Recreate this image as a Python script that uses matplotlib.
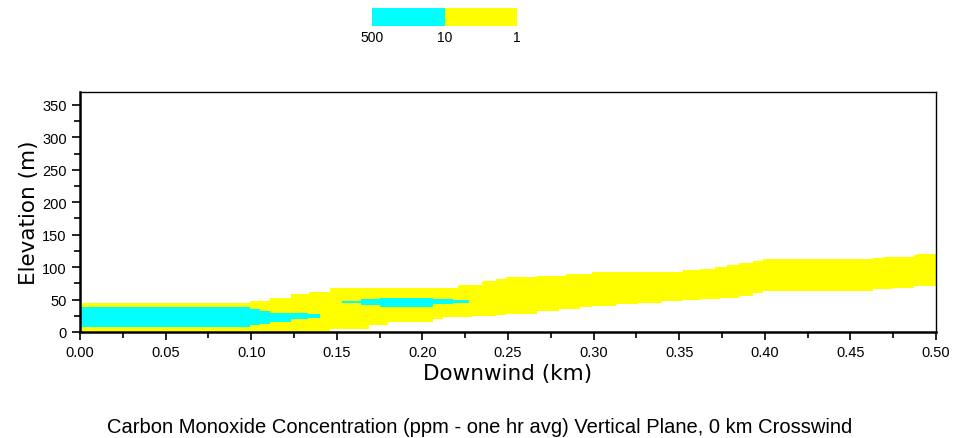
import matplotlib
matplotlib.use("Agg")
from matplotlib import pyplot as plt
from matplotlib import colors, colorbar, ticker

plt.rcParams["font.family"] = ["Liberation Sans", "DejaVu Sans"]

# concentration bands (step edges in km, elevation in m)
# >= 1 ppm band
yel_x = [0.000, 0.099, 0.111, 0.123, 0.134, 0.146, 0.169, 0.180, 0.206, 0.212,
         0.221, 0.229, 0.235, 0.243, 0.249, 0.267, 0.280, 0.284, 0.292, 0.299,
         0.313, 0.326, 0.340, 0.352, 0.362, 0.371, 0.374, 0.378, 0.385, 0.393,
         0.399, 0.463, 0.469, 0.475, 0.487, 0.489, 0.500]
yel_lo = [0, 0, 0, 0, 0, 4, 10, 15, 20, 23,
          23, 25, 25, 26, 28, 32, 36, 36, 38, 40,
          43, 45, 48, 49, 51, 51, 53, 53, 56, 60,
          63, 66, 66, 68, 71, 71, 71]
yel_hi = [45, 47, 52, 58, 62, 68, 68, 68, 68, 68,
          73, 73, 78, 81, 84, 86, 86, 89, 89, 92,
          92, 92, 92, 95, 97, 100, 100, 103, 106, 109,
          113, 114, 116, 116, 118, 120, 120]

# >= 10 ppm, near source
cy1_x = [0.000, 0.099, 0.105, 0.111, 0.123, 0.133, 0.140]
cy1_lo = [8, 10, 12, 16, 20, 22, 22]
cy1_hi = [38, 35, 33, 30, 29, 27, 27]

# >= 10 ppm, elevated pocket
cy2_x = [0.153, 0.164, 0.175, 0.206, 0.218, 0.227]
cy2_lo = [44, 41, 38, 43, 45, 45]
cy2_hi = [48, 51, 53, 51, 49, 49]

levels = ["500", "10", "1"]
band_colors = ["#00FFFF", "#FFFF00"]

fig = plt.figure(figsize=(9.55, 4.39), dpi=100)
ax = fig.add_axes([0.0838, 0.2415, 0.8963, 0.5467])

ax.fill_between(yel_x, yel_lo, yel_hi, step="post", color=band_colors[1], lw=0)
ax.fill_between(cy1_x, cy1_lo, cy1_hi, step="post", color=band_colors[0], lw=0)
ax.fill_between(cy2_x, cy2_lo, cy2_hi, step="post", color=band_colors[0], lw=0)

ax.set_xlim(0, 0.5)
ax.set_ylim(0, 370)
ax.xaxis.set_major_locator(ticker.MultipleLocator(0.05))
ax.xaxis.set_minor_locator(ticker.MultipleLocator(0.025))
ax.yaxis.set_major_locator(ticker.MultipleLocator(50))
ax.yaxis.set_minor_locator(ticker.MultipleLocator(25))
ax.xaxis.set_major_formatter(ticker.FormatStrFormatter("%.2f"))
ax.tick_params(which="both", direction="out", labelsize=10.5, width=1.2, top=False, right=False)
ax.tick_params(which="major", length=6)
ax.tick_params(which="minor", length=4)
for s in ["left", "bottom"]:
    ax.spines[s].set_linewidth(1.8)
for s in ["top", "right"]:
    ax.spines[s].set_linewidth(1.0)

ax.set_xlabel("Downwind (km)", fontsize=15.5, family=["DejaVu Sans"], labelpad=3)
ax.set_ylabel("Elevation (m)", fontsize=15.5, family=["DejaVu Sans"], labelpad=2)

fig.text(0.502, 0.027, "Carbon Monoxide Concentration (ppm - one hr avg) Vertical Plane, 0 km Crosswind",
         ha="center", va="center", fontsize=14.5)

# legend bar on top
cax = fig.add_axes([372 / 955, 1 - 27 / 439, 145 / 955, 18 / 439])
cmap = colors.ListedColormap(band_colors)
norm = colors.BoundaryNorm([0, 1, 2], cmap.N)
cb = colorbar.ColorbarBase(cax, cmap=cmap, norm=norm, orientation="horizontal",
                           ticks=[0, 1, 2])
cb.set_ticklabels(levels)
cb.outline.set_visible(False)
cax.tick_params(length=0, labelsize=10, pad=3)

fig.savefig("out.png", dpi=100)
